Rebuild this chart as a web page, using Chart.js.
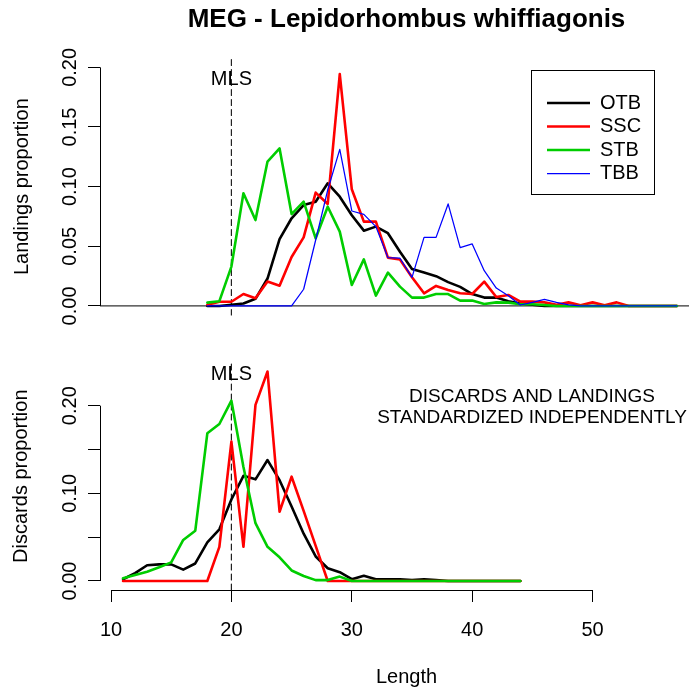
<!DOCTYPE html>
<html><head><meta charset="utf-8">
<script src="https://cdn.jsdelivr.net/npm/chart.js@4.4.1/dist/chart.umd.min.js"></script>
<style>
html,body{margin:0;padding:0;background:#fff;overflow:hidden;width:689px;height:691px;}
#wrap{position:relative;width:689px;height:691px;overflow:hidden;background:#fff;}
canvas{position:absolute;left:0;}
#c1{top:0}
#c2{top:340px}
</style></head><body>
<div id="wrap"><canvas id="c1" width="713" height="340"></canvas><canvas id="c2" width="713" height="351"></canvas></div>
<script>
// ---------- DATA ----------
const lengthsLand = [18,19,20,21,22,23,24,25,26,27,28,29,30,31,32,33,34,35,36,37,38,39,40,41,42,43,44,45,46,47,48,49,50,51,52,53,54,55,56,57];
const otbLand = [0.000,0.000,0.001,0.002,0.006,0.023,0.056,0.0735,0.0846,0.0874,
                 0.1028,0.0916,0.076,0.0631,0.0665,0.061,0.0455,0.031,0.028,0.025,
                 0.020,0.016,0.010,0.007,0.007,0.004,0.002,0.001,0,0,
                 0,0,0,0,0,0,0,0,0,0];
const sscLand = [0.001,0.0035,0.0035,0.010,0.0065,0.0205,0.017,0.041,0.0575,0.095,
                 0.0855,0.1944,0.0978,0.0707,0.0707,0.0405,0.039,0.024,0.0106,0.0168,
                 0.0134,0.0106,0.010,0.0204,0.0075,0.0092,0.0036,0.0036,0.003,0.001,
                 0.003,0.0005,0.003,0.0005,0.003,0,0,0,0,0];
const stbLand = [0.0028,0.004,0.033,0.0944,0.072,0.121,0.132,0.077,0.0874,0.0567,
                 0.0832,0.0623,0.0176,0.039,0.0087,0.0279,0.0162,0.007,0.007,0.010,
                 0.010,0.0045,0.0045,0.0017,0.003,0.0028,0.0014,0.0014,0.0008,0,
                 0,0,0,0,0,0,0,0,0,0];
const tbbLand = [0,0,0,0,0,0,0,0,0.014,0.0553,
                 0.0972,0.1313,0.0796,0.0768,0.0665,0.0405,0.040,0.024,0.0575,0.0575,
                 0.0855,0.0489,0.052,0.0296,0.015,0.0085,0.0008,0.003,0.0055,0.003,
                 0.001,0,0,0,0,0,0,0,0,0];

const lengthsDisc = [11,12,13,14,15,16,17,18,19,20,21,22,23,24,25,26,27,28,29,30,31,32,33,34,35,36,37,38,39,40,41,42,43,44];
const otbDisc = [0.002,0.009,0.018,0.019,0.019,0.013,0.020,0.044,0.059,0.093,
                 0.120,0.116,0.138,0.115,0.085,0.054,0.028,0.0145,0.010,0.002,
                 0.006,0.002,0.002,0.002,0.001,0.002,0.001,0,0,0,
                 0,0,0,0];
const sscDisc = [0,0,0,0,0,0,0,0,0.039,0.159,
                 0.039,0.201,0.239,0.079,0.119,0.080,0.040,0,0,0,
                 0,0,0,0,0,0,0,0,0,0,
                 0,0,0,0];
const stbDisc = [0.003,0.0068,0.0106,0.0156,0.0213,0.0468,0.0574,0.1685,0.1791,0.2057,
                 0.13,0.066,0.039,0.027,0.012,0.0057,0.001,0.001,0.005,0,
                 0,0,0,0,0,0,0,0,0,0,
                 0,0,0,0];

const xTicks = [10,20,30,40,50];
const yTicksLand = [0,0.05,0.10,0.15,0.20];
const yTicksDisc = [0,0.05,0.10,0.15,0.20];
const yLabelsDisc = ['0.00','','0.10','','0.20'];
const MLS = 20;
const mlsLabelYLand = 0.19;
const mlsLabelYDisc = 0.236;
const titleText = 'MEG - Lepidorhombus whiffiagonis';
const noteLines = ['DISCARDS AND LANDINGS','STANDARDIZED INDEPENDENTLY'];

// ---------- STYLE ----------
const FONT = "'Liberation Sans', Arial, Helvetica, sans-serif";
Chart.defaults.font.family = FONT;
Chart.defaults.color = '#000';
const COL = {OTB:'#000000', SSC:'#FF0000', STB:'#00CD00', TBB:'#0000FF'};
const XMIN = 9.086, XMAX = 60.0;

function pts(xs, ys){ return xs.map((v,i)=>({x:v, y:ys[i]})); }
function series(label, xs, ys, w, order, legendIndex){
  return {label, data:pts(xs,ys), borderColor:COL[label], borderWidth:w, order,
          legendIndex, inLegend:true, fill:false};
}

const axisLines = {
  id:'axisLines',
  afterDraw(chart){
    const o = chart.options.plugins.axisLines || {};
    const {ctx, chartArea:a, scales:{x,y}} = chart;
    ctx.save();
    ctx.strokeStyle = '#000'; ctx.lineWidth = 1;
    const yt = y.ticks;
    ctx.beginPath();
    ctx.moveTo(a.left + 0.5, y.getPixelForValue(yt[0].value));
    ctx.lineTo(a.left + 0.5, y.getPixelForValue(yt[yt.length-1].value));
    ctx.stroke();
    if (o.xAxis) {
      const xt = x.ticks;
      ctx.beginPath();
      ctx.moveTo(x.getPixelForValue(xt[0].value), a.bottom + 0.5);
      ctx.lineTo(x.getPixelForValue(xt[xt.length-1].value), a.bottom + 0.5);
      ctx.stroke();
    }
    ctx.fillStyle = '#000';
    ctx.font = '20px ' + FONT;
    ctx.textAlign = 'center'; ctx.textBaseline = 'middle';
    ctx.fillText('MLS', x.getPixelForValue(MLS), y.getPixelForValue(o.mlsY));
    if (o.notes) {
      ctx.font = '19px ' + FONT;
      ctx.textBaseline = 'alphabetic';
      o.notes.forEach((t,i)=> ctx.fillText(t, 532, 61.7 + i*21.6));
    }
    if (o.legend) {
      const L = o.legend;
      ctx.lineWidth = 1;
      ctx.strokeStyle = '#000';
      ctx.strokeRect(L.x + 0.5, L.y + 0.5, L.w, L.h);
      const items = chart.data.datasets.filter(d=>d.inLegend).sort((p,q)=>p.legendIndex-q.legendIndex);
      ctx.font = '20px ' + FONT; ctx.textAlign = 'left'; ctx.textBaseline = 'middle';
      items.forEach((d,i)=>{
        const yy = L.y + L.first + i*L.step;
        ctx.strokeStyle = d.borderColor; ctx.lineWidth = d.borderWidth;
        ctx.beginPath(); ctx.moveTo(L.x + 16, yy); ctx.lineTo(L.x + 59, yy); ctx.stroke();
        ctx.fillStyle = '#000';
        ctx.fillText(d.label, L.x + 69, yy);
      });
    }
    ctx.restore();
  }
};

const commonLine = {point:{radius:0}, line:{tension:0, borderCapStyle:'round', borderJoinStyle:'round'}};

// ---------- TOP: LANDINGS ----------
const yMinLand = -0.008, yMaxLand = 0.208;
new Chart(document.getElementById('c1'), {
  type:'line',
  data:{datasets:[
    series('TBB', lengthsLand, tbbLand, 1.25, 0, 3),
    series('STB', lengthsLand, stbLand, 2.6, 1, 2),
    series('SSC', lengthsLand, sscLand, 2.6, 2, 1),
    series('OTB', lengthsLand, otbLand, 2.6, 3, 0),
    {label:'zero', data:[{x:XMIN,y:0},{x:XMAX,y:0}], borderColor:'#333', borderWidth:1.2, order:4},
    {label:'mls', data:[{x:MLS,y:yMinLand},{x:MLS,y:yMaxLand}], borderColor:'#222', borderWidth:1.2, borderDash:[6,4], order:5}
  ]},
  options:{
    responsive:false, animation:false, events:[],
    layout:{autoPadding:false, padding:{top:0,left:0,right:0,bottom:24.5}},
    elements:commonLine,
    plugins:{
      legend:{display:false}, tooltip:{enabled:false},
      title:{display:true, text:titleText, fullSize:false, color:'#000',
             font:{size:26, weight:'bold', family:FONT}, padding:{top:4.1,bottom:22.5}},
      axisLines:{mlsY:mlsLabelYLand, legend:{x:531, y:70, w:123, h:124, first:33, step:23.5}}
    },
    scales:{
      x:{type:'linear', min:XMIN, max:XMAX, display:false},
      y:{type:'linear', min:yMinLand, max:yMaxLand,
         afterFit(s){ s.width = 100; },
         afterBuildTicks(s){ s.ticks = yTicksLand.map(v=>({value:v})); },
         grid:{drawOnChartArea:false, drawTicks:true, tickLength:12, tickColor:'#000', color:'#000', lineWidth:1},
         border:{display:false},
         ticks:{autoSkip:false, minRotation:90, maxRotation:90, crossAlign:'center', padding:-1.5,
                font:{size:20}, color:'#000', callback:(v)=>Number(v).toFixed(2)},
         title:{display:true, text:'Landings proportion', color:'#000', font:{size:20}, padding:{top:10.4,bottom:0}}
      }
    }
  },
  plugins:[axisLines]
});

// ---------- BOTTOM: DISCARDS ----------
const yMinDisc = -0.01027, yMaxDisc = 0.2494;
new Chart(document.getElementById('c2'), {
  type:'line',
  data:{datasets:[
    series('STB', lengthsDisc, stbDisc, 2.6, 1, 2),
    series('SSC', lengthsDisc, sscDisc, 2.6, 2, 1),
    series('OTB', lengthsDisc, otbDisc, 2.6, 3, 0),
    {label:'mls', data:[{x:MLS,y:yMinDisc},{x:MLS,y:yMaxDisc}], borderColor:'#222', borderWidth:1.2, borderDash:[6,4], order:5}
  ]},
  options:{
    responsive:false, animation:false, events:[],
    layout:{autoPadding:false, padding:{top:22.4,left:0,right:0,bottom:0}},
    elements:commonLine,
    plugins:{
      legend:{display:false}, tooltip:{enabled:false},
      axisLines:{mlsY:mlsLabelYDisc, xAxis:true, notes:noteLines}
    },
    scales:{
      x:{type:'linear', min:XMIN, max:XMAX, position:'bottom',
         afterFit(s){ s.height = 101; },
         afterBuildTicks(s){ s.ticks = xTicks.map(v=>({value:v})); },
         grid:{drawOnChartArea:false, drawTicks:true, tickLength:12, tickColor:'#000', color:'#000', lineWidth:1},
         border:{display:false},
         ticks:{autoSkip:false, maxRotation:0, minRotation:0, padding:16, font:{size:20}, color:'#000',
                callback:(v)=>String(v)},
         title:{display:true, text:'Length', color:'#000', font:{size:20}, padding:{top:0,bottom:1.9}}
      },
      y:{type:'linear', min:yMinDisc, max:yMaxDisc,
         afterFit(s){ s.width = 100; },
         afterBuildTicks(s){ s.ticks = yTicksDisc.map(v=>({value:v})); },
         grid:{drawOnChartArea:false, drawTicks:true, tickLength:12, tickColor:'#000', color:'#000', lineWidth:1},
         border:{display:false},
         ticks:{autoSkip:false, minRotation:90, maxRotation:90, crossAlign:'center', padding:-1.5,
                font:{size:20}, color:'#000', callback:(v,i)=>yLabelsDisc[i]},
         title:{display:true, text:'Discards proportion', color:'#000', font:{size:20}, padding:{top:9.4,bottom:0}}
      }
    }
  },
  plugins:[axisLines]
});
</script>
</body></html>
